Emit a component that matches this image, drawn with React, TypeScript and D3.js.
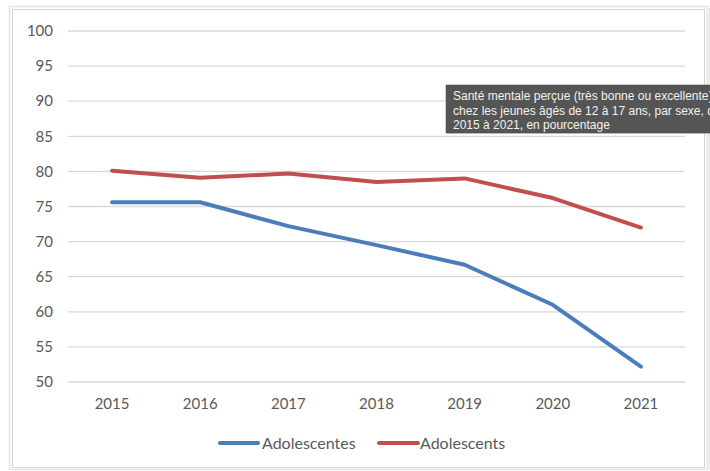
import React from "react";
import * as d3 from "d3";

const years = ["2015", "2016", "2017", "2018", "2019", "2020", "2021"];
const adolescentes = [75.6, 75.6, 72.2, 69.5, 66.7, 61.0, 52.2];
const adolescents = [80.1, 79.1, 79.7, 78.5, 79.0, 76.2, 72.0];
const yTicks = [50, 55, 60, 65, 70, 75, 80, 85, 90, 95, 100];
const seriesNames = ["Adolescentes", "Adolescents"];
const seriesColors = ["#4A7EBB", "#C0504D"];
const tooltipLines = [
  "Santé mentale perçue (très bonne ou excellente)",
  "chez les jeunes âgés de 12 à 17 ans, par sexe, de",
  "2015 à 2021, en pourcentage",
];

const W = 710;
const H = 471;
const plotLeft = 68;
const plotRight = 685;
const plotTop = 31;
const plotBottom = 382;
const font = "Lato, 'Open Sans', sans-serif";

export default function App() {
  const x = d3.scalePoint<string>().domain(years).range([plotLeft, plotRight]).padding(0.5);
  const y = d3.scaleLinear().domain([50, 100]).range([plotBottom, plotTop]);
  const line = d3
    .line<number>()
    .x((_, i) => x(years[i]) as number)
    .y((d) => y(d));
  const series = [adolescentes, adolescents];

  const legendItems = [
    { x1: 220, x2: 258, tx: 262 },
    { x1: 379, x2: 418, tx: 420 },
  ];

  return (
    <svg
      width={W}
      height={H}
      style={{ position: "absolute", left: 0, top: 0, background: "#fff" }}
    >
      <rect x={0} y={0} width={W} height={H} fill="#fff" />
      <rect x={9.5} y={6.5} width={698} height={463} fill="none" stroke="#e3e3e3" strokeWidth={1.5} />
      <rect x={12.5} y={9.5} width={692} height={458} fill="#fff" stroke="#d4d4d4" strokeWidth={1} />
      <rect x={706} y={8} width={4} height={462} fill="#ececec" />

      {yTicks.map((t) => (
        <g key={t}>
          <line x1={plotLeft} x2={plotRight} y1={y(t)} y2={y(t)} stroke="#d9d9d9" strokeWidth={1.3} />
          <text
            x={53}
            y={y(t)}
            dy="0.35em"
            textAnchor="end"
            fontFamily={font}
            fontSize={15}
            fill="#595959"
          >
            {t}
          </text>
        </g>
      ))}

      {years.map((yr) => (
        <text
          key={yr}
          x={x(yr)}
          y={409}
          textAnchor="middle"
          fontFamily={font}
          fontSize={15}
          fill="#595959"
        >
          {yr}
        </text>
      ))}

      {series.map((s, i) => (
        <path
          key={i}
          d={line(s) || ""}
          fill="none"
          stroke={seriesColors[i]}
          strokeWidth={4}
          strokeLinejoin="round"
          strokeLinecap="round"
        />
      ))}

      {legendItems.map((l, i) => (
        <g key={i}>
          <line x1={l.x1} x2={l.x2} y1={443} y2={443} stroke={seriesColors[i]} strokeWidth={4} strokeLinecap="round" />
          <text x={l.tx} y={443} dy="0.36em" fontFamily={font} fontSize={16} fill="#595959">
            {seriesNames[i]}
          </text>
        </g>
      ))}

      <rect x={447} y={86} width={270} height={48} fill="#d0d0d0" opacity={0.6} />
      <rect x={446} y={85} width={270} height={48} fill="#555555" stroke="#444" strokeWidth={0.5} />
      {tooltipLines.map((t, i) => (
        <text
          key={i}
          x={453}
          y={100 + i * 14.5}
          fontFamily="'Liberation Sans', Arial, sans-serif"
          fontSize={12}
          fill="#f2f2f2"
        >
          {t}
        </text>
      ))}
    </svg>
  );
}
